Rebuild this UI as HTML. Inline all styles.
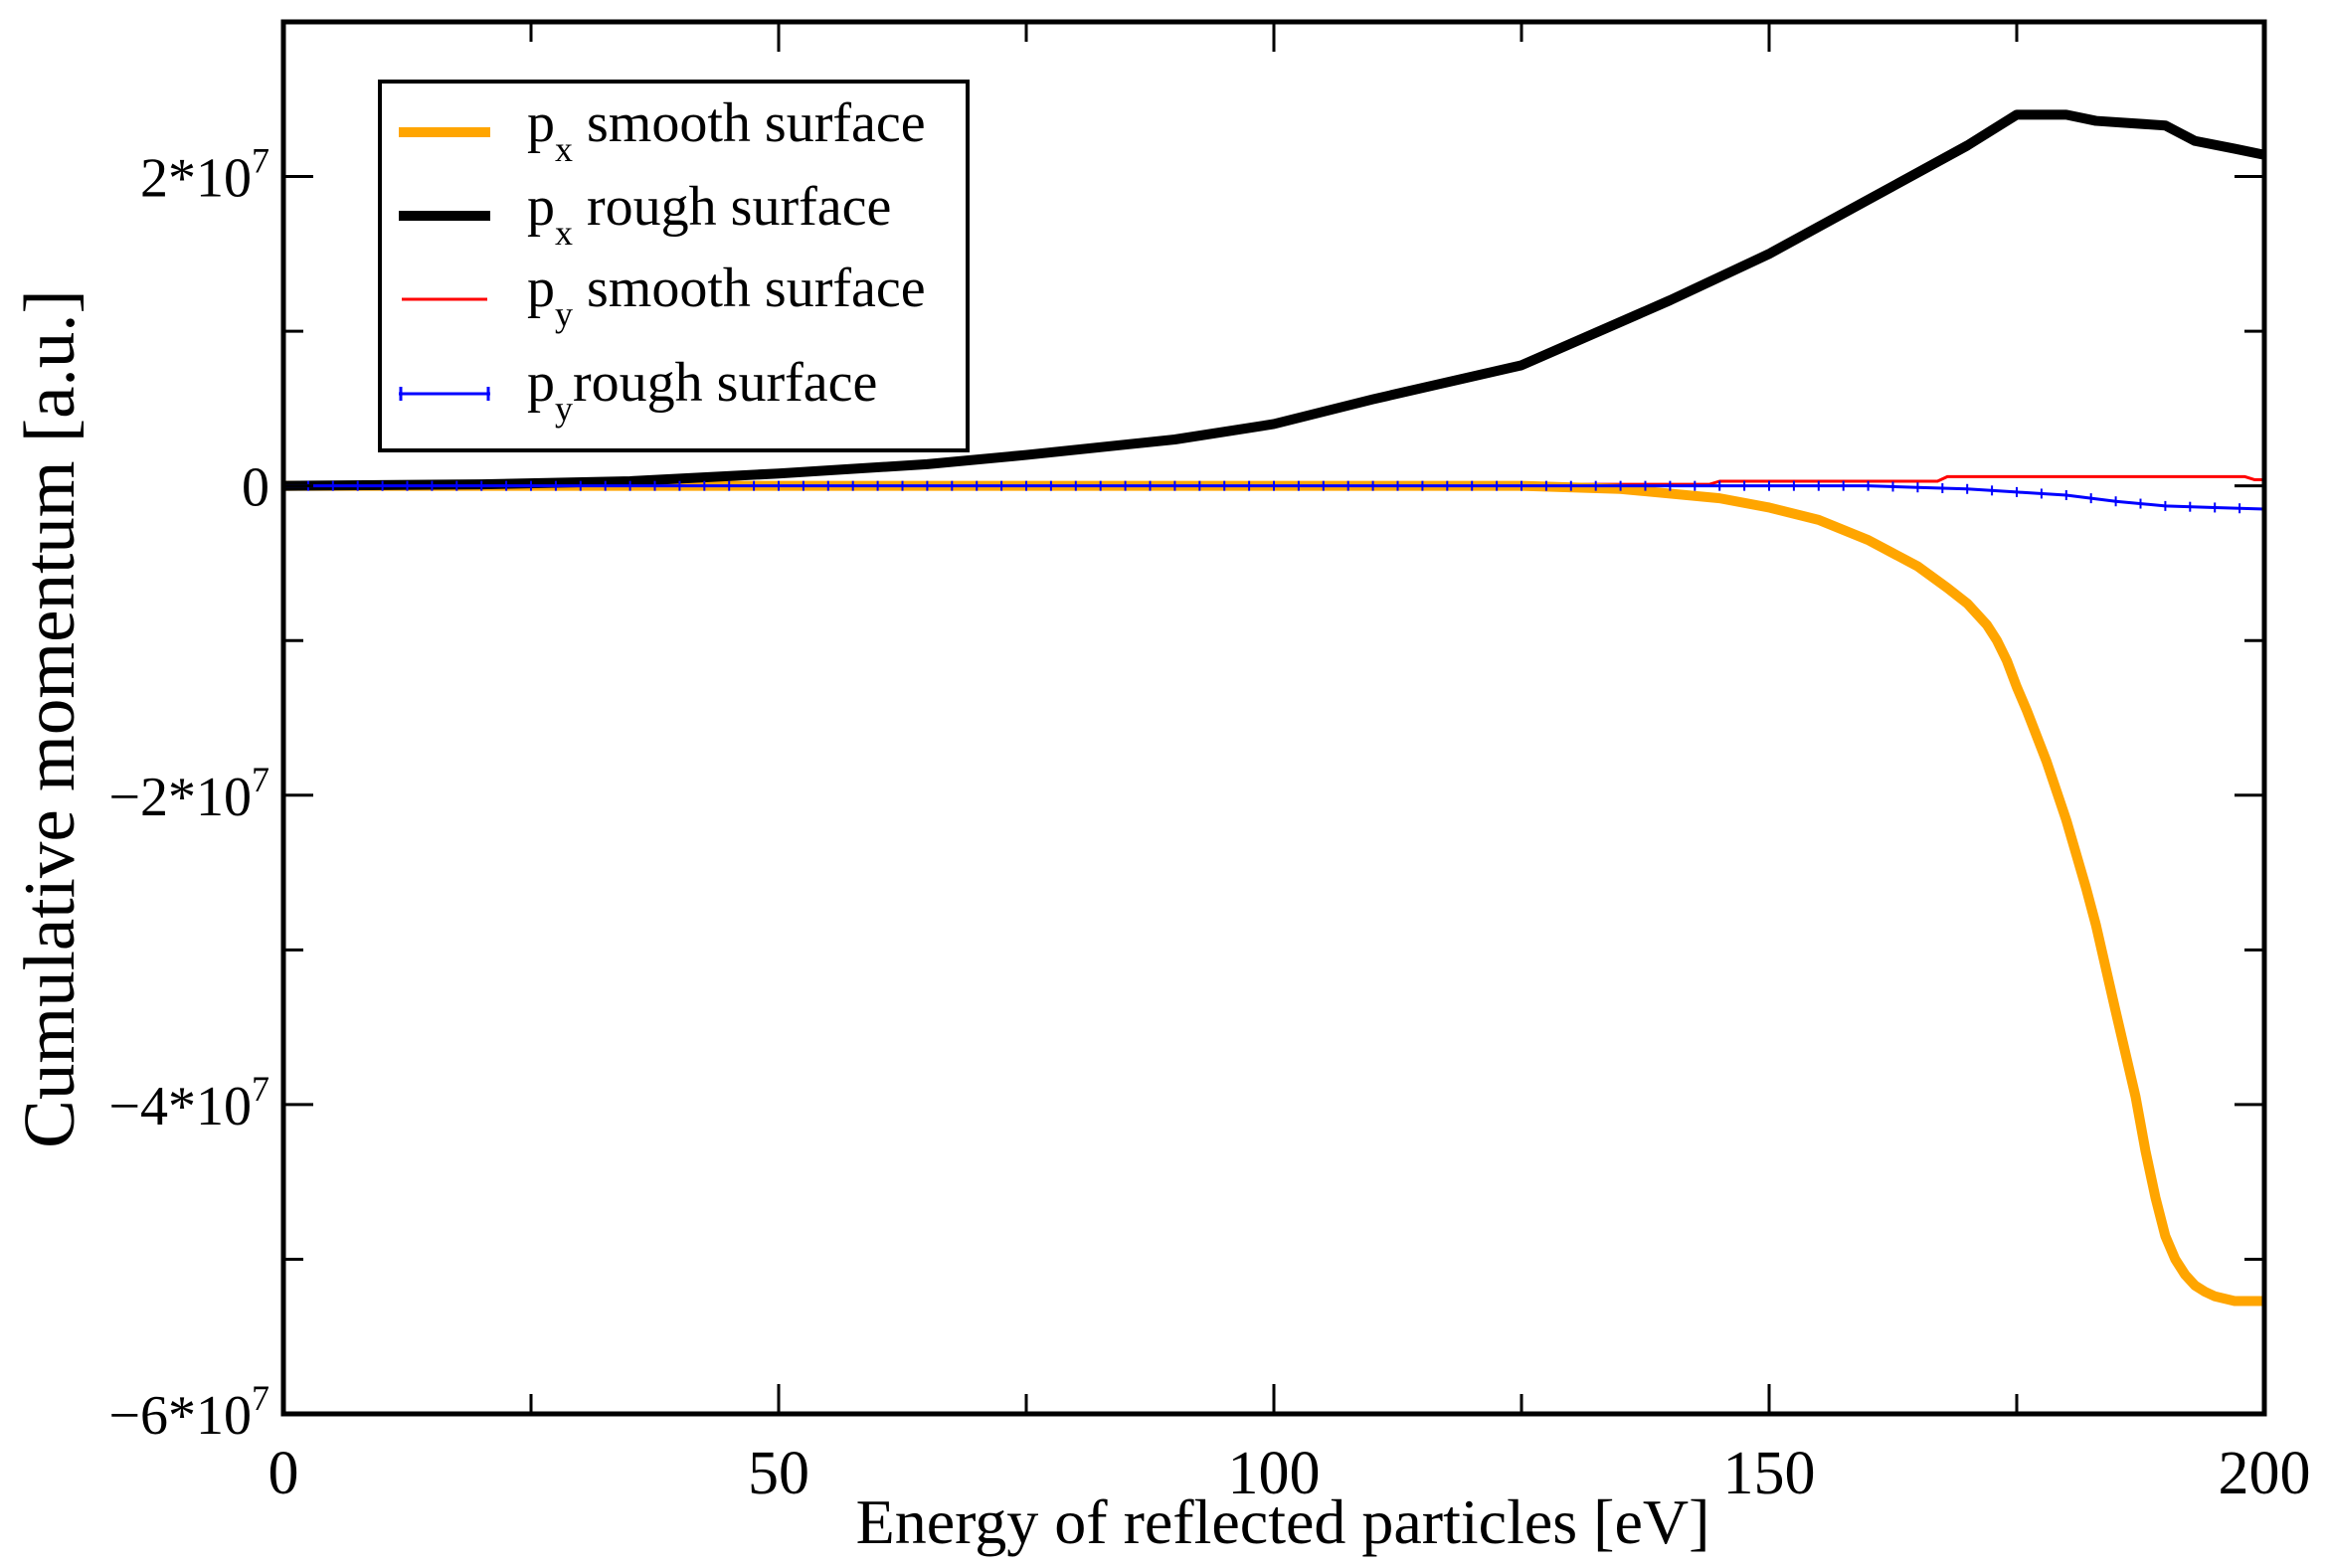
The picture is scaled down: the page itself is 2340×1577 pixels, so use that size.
<!DOCTYPE html>
<html><head><meta charset="utf-8"><style>
html,body{margin:0;padding:0;background:#fff;}
svg{display:block;font-family:"Liberation Serif",serif;}
</style></head><body>
<svg id="chart" width="2340" height="1577" viewBox="0 0 2340 1577" xmlns="http://www.w3.org/2000/svg">
<g id="series"></g>
<rect x="285" y="22" width="1992" height="1400" fill="none" stroke="#000" stroke-width="5"/>
<g id="ticks"></g>
<text x="1290" y="1552" font-size="64" text-anchor="middle">Energy of reflected particles [eV]</text>
<text transform="translate(74,723) rotate(-90)" font-size="73" text-anchor="middle">Cumulative momentum [a.u.]</text>
<g>
<rect x="382" y="82" width="591" height="371" fill="#fff" stroke="#000" stroke-width="4"/>
<line x1="401" y1="133" x2="493" y2="133" stroke="#ffa500" stroke-width="10"/>
<text x="530" y="142" font-size="56">p<tspan dy="20" font-size="36">x</tspan><tspan dy="-20"> smooth surface</tspan></text>
<line x1="401" y1="217" x2="493" y2="217" stroke="#000" stroke-width="10"/>
<text x="530" y="226" font-size="56">p<tspan dy="20" font-size="36">x</tspan><tspan dy="-20"> rough surface</tspan></text>
<line x1="404" y1="301" x2="490" y2="301" stroke="#ff0000" stroke-width="3"/>
<text x="530" y="308" font-size="56">p<tspan dy="20" font-size="36">y</tspan><tspan dy="-20">  smooth surface</tspan></text>
<line x1="401" y1="396" x2="493" y2="396" stroke="#0000ff" stroke-width="3"/>
<line x1="403" y1="389" x2="403" y2="403" stroke="#0000ff" stroke-width="3"/>
<line x1="491" y1="389" x2="491" y2="403" stroke="#0000ff" stroke-width="3"/>
<text x="530" y="403" font-size="56">p<tspan dy="20" font-size="36">y</tspan><tspan dy="-20">rough surface</tspan></text>
</g>
</svg>
<script>
const xTicks=[0,50,100,150,200];
const xTickLabels=["0","50","100","150","200"];
const yTicks=[-6e7,-4e7,-2e7,0,2e7];
const yTickLabels=["\u22126*10","\u22124*10","\u22122*10","0","2*10"];
const pxSmoothX=[0,125,135,140,145,150,155,160,165,168,170,172,173,174,175,176,178,180,182,183,185,187,188,189,190,191,192,193,194,195,197,198,200];
const pxSmoothY=[0,0,-0.02e7,-0.05e7,-0.08e7,-0.14e7,-0.22e7,-0.35e7,-0.52e7,-0.66e7,-0.76e7,-0.9e7,-1.0e7,-1.13e7,-1.3e7,-1.45e7,-1.78e7,-2.16e7,-2.6e7,-2.84e7,-3.4e7,-3.95e7,-4.3e7,-4.6e7,-4.85e7,-5.0e7,-5.1e7,-5.17e7,-5.21e7,-5.24e7,-5.27e7,-5.27e7,-5.27e7];
const pxRoughX=[0,20,35,50,65,75,90,100,110,125,140,150,160,170,175,180,183,190,193,197,200];
const pxRoughY=[0,0.1e6,0.3e6,0.8e6,1.4e6,2.0e6,3.0e6,4.0e6,5.6e6,7.8e6,1.2e7,1.5e7,1.85e7,2.2e7,2.4e7,2.4e7,2.36e7,2.33e7,2.23e7,2.18e7,2.14e7];
const pySmoothX=[0,100,144,145,167,168,198,199,200];
const pySmoothY=[0,0.1e6,0.1e6,0.3e6,0.3e6,0.6e6,0.6e6,0.4e6,0.4e6];
const pyRoughX=[0,160,165,170,175,180,185,190,195,200];
const pyRoughY=[0,0,-0.1e6,-0.2e6,-0.4e6,-0.6e6,-1.0e6,-1.3e6,-1.4e6,-1.5e6];
const L=285,R=2277,T=22,B=1422,XMIN=0,XMAX=200,YMIN=-6e7,YMAX=3e7;
function sx(v){return L+(v-XMIN)/(XMAX-XMIN)*(R-L);}
function sy(v){return B-(v-YMIN)/(YMAX-YMIN)*(B-T);}
const NS="http://www.w3.org/2000/svg";
const ser=document.getElementById('series'),tk=document.getElementById('ticks');
function mk(tag,attrs,parent){const e=document.createElementNS(NS,tag);for(const k in attrs)e.setAttribute(k,attrs[k]);parent.appendChild(e);return e;}
function line(xs,ys,color,w,name){
  const p=mk('polyline',{points:xs.map((x,i)=>sx(x)+','+sy(ys[i])).join(' '),fill:'none',stroke:color,'stroke-width':w,'stroke-linejoin':'round'},ser);
  
  
}
line(pySmoothX,pySmoothY,'#ff0000',3,'line-py-smooth');
line(pxSmoothX,pxSmoothY,'#ffa500',10,'line-px-smooth');
line(pxRoughX,pxRoughY,'#000',10,'line-px-rough');
line(pyRoughX,pyRoughY,'#0000ff',3,'line-py-rough');
for(let x=0;x<=200;x+=2.5){
  let i=0;while(i<pyRoughX.length-2&&pyRoughX[i+1]<x)i++;
  const t=(x-pyRoughX[i])/(pyRoughX[i+1]-pyRoughX[i]);
  const v=pyRoughY[i]+t*(pyRoughY[i+1]-pyRoughY[i]);
  const m=mk('line',{x1:sx(x),x2:sx(x),y1:sy(v)-5,y2:sy(v)+5,stroke:'#0000ff','stroke-width':2},ser);
  
  
}
for(let v=0;v<=200;v+=25){
  const major=v%50===0,len=major?30:20;
  const a=mk('line',{x1:sx(v),x2:sx(v),y1:B,y2:B-len,stroke:'#000','stroke-width':3},tk);
  
  
  const b=mk('line',{x1:sx(v),x2:sx(v),y1:T,y2:T+len,stroke:'#000','stroke-width':3},tk);
  
  
}
xTicks.forEach((v,i)=>{
  const t=mk('text',{x:sx(v),y:B+80,'font-size':62,'text-anchor':'middle'},tk);
  t.textContent=xTickLabels[i];
  
  
});
for(let v=-6e7;v<=3e7;v+=1e7){
  const major=Math.round(v/1e7)%2===0,len=major?30:20;
  const a=mk('line',{x1:L,x2:L+len,y1:sy(v),y2:sy(v),stroke:'#000','stroke-width':3},tk);
  
  
  const b=mk('line',{x1:R,x2:R-len,y1:sy(v),y2:sy(v),stroke:'#000','stroke-width':3},tk);
  
  
}
yTicks.forEach((v,i)=>{
  const t=mk('text',{x:L-14,y:sy(v)+20,'font-size':56,'text-anchor':'end'},tk);
  t.textContent=yTickLabels[i];
  if(v!==0){const s=mk('tspan',{dy:-24,'font-size':36},t);s.textContent='7';}
  
  
});
</script>
</body></html>
